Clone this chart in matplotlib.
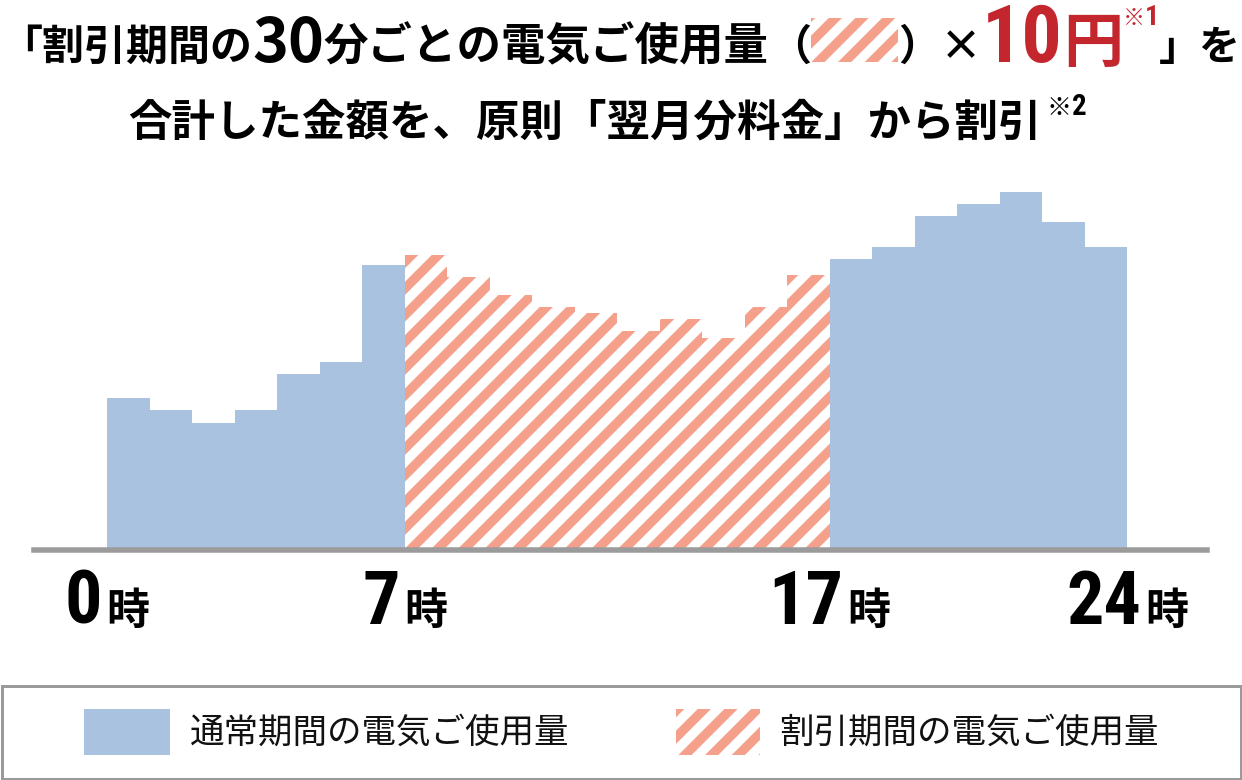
import matplotlib
matplotlib.use("Agg")
import matplotlib.pyplot as plt
from matplotlib import font_manager as fm
from matplotlib.font_manager import FontProperties
from matplotlib.patches import Rectangle
from matplotlib.transforms import Affine2D, ScaledTranslation

# ---------------- data ----------------
hours_normal_am = [0, 1, 2, 3, 4, 5, 6]
usage_normal_am = [150, 138, 125, 138, 174, 186, 283]
hours_discount = [7, 8, 9, 10, 11, 12, 13, 14, 15, 16]
usage_discount = [293, 271, 253, 241, 235, 217, 229, 210, 241, 273]
hours_normal_pm = [17, 18, 19, 20, 21, 22, 23]
usage_normal_pm = [289, 301, 332, 344, 356, 326, 301]

tick_hours = [0, 7, 17, 24]
tick_numbers = ["0", "7", "17", "24"]
tick_unit = "時"

legend_labels = ["通常期間の電気ご使用量", "割引期間の電気ご使用量"]

title1_a = "「割引期間の"
title1_num = "30"
title1_b = "分ごとの電気ご使用量"
title1_open = "（"
title1_close = "）×"
title1_price = "10"
title1_yen = "円"
title1_note = "※"
title1_note_no = "1"
title1_end = "」を"
title2 = "合計した金額を、原則「翌月分料金」から割引"
title2_note = "※"
title2_note_no = "2"

# ---------------- style ----------------
BLUE = "#a8c2e0"
SALMON = "#f4a08a"
RED = "#c4262e"
GRAY = "#9b9b9b"
BLACK = "#000000"
DPI = 160
W, H = 1242, 780
CJK = ["Noto Sans CJK JP", "DejaVu Sans"]

plt.rcParams["font.family"] = CJK
plt.rcParams["hatch.linewidth"] = 4.2


def pt(px):
    return px * 72.0 / DPI


def _wnum(w):
    if isinstance(w, (int, float)):
        return w
    return fm.weight_dict.get(str(w).lower(), 400)


def _snum(s):
    if isinstance(s, (int, float)):
        return s
    return fm.stretch_dict.get(str(s).lower(), 500)


def find_condensed(target_w):
    prefs = ["roboto condensed", "liberation sans narrow", "dejavu sans",
             "open sans", "noto sans", "roboto", "lato", "inter"]
    best = None
    for f in fm.fontManager.ttflist:
        fn = f.fname.lower()
        nm = f.name.lower()
        cond = ("condensed" in fn or "narrow" in fn or "condensed" in nm
                or "narrow" in nm or _snum(f.stretch) < 500)
        if not cond:
            continue
        if f.style != "normal" or "italic" in fn or "oblique" in fn:
            continue
        w = _wnum(f.weight)
        if w < 500:
            continue
        rank = next((i for i, p in enumerate(prefs) if nm.startswith(p)), len(prefs))
        key = (rank, abs(w - target_w))
        if best is None or key < best[0]:
            best = (key, f.fname)
    return best[1] if best else None


COND_BOLD = find_condensed(700)
COND_SEMI = find_condensed(600)


def digit_fp(px, path=None):
    path = path or COND_BOLD
    if path:
        return FontProperties(fname=path, size=pt(px))
    return FontProperties(family=["Roboto", "DejaVu Sans"], weight="bold", size=pt(px * 0.82))


def cjk_fp(px, weight="bold"):
    return FontProperties(family=CJK, weight=weight, size=pt(px))


# ---------------- figure ----------------
fig = plt.figure(figsize=(W / DPI, H / DPI), dpi=DPI)
fig.patch.set_facecolor("white")
pix = Affine2D().scale(1.0 / W, -1.0 / H).translate(0, 1) + fig.transFigure

ax = fig.add_axes([34 / W, 1 - 550 / H, 1173 / W, 370 / H])
ax.bar(hours_normal_am, usage_normal_am, width=1, align="edge", color=BLUE, linewidth=0)
ax.bar(hours_discount, usage_discount, width=1, align="edge", facecolor="white",
       edgecolor=SALMON, linewidth=0, hatch="//")
ax.bar(hours_normal_pm, usage_normal_pm, width=1, align="edge", color=BLUE, linewidth=0)
ax.set_xlim(-1.718, 25.88)
ax.set_ylim(-2, 368)
for s in ["top", "right", "left"]:
    ax.spines[s].set_visible(False)
ax.spines["bottom"].set_color(GRAY)
ax.spines["bottom"].set_linewidth(pt(5.5))
ax.set_yticks([])
ax.set_xticks([])
ax.set_facecolor("none")

renderer = fig.canvas.get_renderer()

# ---- x tick labels (digits + 時) ----
base_tr = ax.get_xaxis_transform()
dy = -74.0 / DPI
gap = 4.0
for hr, num in zip(tick_hours, tick_numbers):
    t_num = ax.text(hr, 0, num, fontproperties=digit_fp(74, COND_SEMI), color=BLACK,
                    ha="left", va="baseline", transform=base_tr)
    t_ji = ax.text(hr, 0, tick_unit, fontproperties=cjk_fp(43), color=BLACK,
                   ha="left", va="baseline", transform=base_tr)
    w1 = t_num.get_window_extent(renderer).width
    w2 = t_ji.get_window_extent(renderer).width
    x0 = -(w1 + gap + w2) / 2.0
    t_num.set_transform(base_tr + ScaledTranslation(x0 / DPI, dy, fig.dpi_scale_trans))
    t_ji.set_transform(base_tr + ScaledTranslation((x0 + w1 + gap) / DPI, dy, fig.dpi_scale_trans))


def width_px(t):
    return t.get_window_extent(renderer).width


def ptext(x, y, s, fp, color=BLACK, ha="left"):
    return fig.text(x, y, s, fontproperties=fp, color=color, ha=ha, va="baseline",
                    transform=pix)


# ---- title line 1: measure, then lay out without overlaps inside the canvas ----
L1 = 60
BOX_W = 87
line1 = [
    (title1_a, cjk_fp(42), BLACK, L1, 0),
    (title1_num, cjk_fp(61), BLACK, L1 + 2, 245),
    (title1_b, cjk_fp(44.5), BLACK, L1, 320),
    (title1_open, cjk_fp(42), BLACK, L1, 772),
    ("BOX", None, None, None, 817),
    (title1_close, cjk_fp(42), BLACK, L1, 905),
    (title1_price, digit_fp(80), RED, L1 + 2, 978),
    (title1_yen, cjk_fp(60), RED, L1 + 2, 1052),
    (title1_note, cjk_fp(22), RED, 25, 1116),
    (title1_note_no, digit_fp(28), RED, 25, 1138),
    (title1_end, cjk_fp(41), BLACK, L1, 1158),
]
items = []
for s, fp, col, yb, want in line1:
    if s == "BOX":
        items.append([None, BOX_W, want])
    else:
        t = ptext(0, yb, s, fp, color=col)
        items.append([t, width_px(t), want])
# forward pass
pos = []
cur = 0.0
for t, w, want in items:
    p = max(want, cur)
    pos.append(p)
    cur = p + w
# backward pass (keep inside right edge)
limit = W - 1.0
for i in range(len(items) - 1, -1, -1):
    pos[i] = min(pos[i], limit - items[i][1])
    limit = pos[i]
for (t, w, want), p in zip(items, pos):
    if t is None:
        fig.add_artist(Rectangle((p, 18), BOX_W, 44, transform=pix, facecolor="white",
                                 edgecolor=SALMON, linewidth=0, hatch="//"))
    else:
        t.set_x(p)

# ---- title line 2 ----
L2 = 136
t2 = ptext(128, L2, title2, cjk_fp(43.5))
xn = max(1046, 128 + width_px(t2) + 2)
tn = ptext(xn, 115, title2_note, cjk_fp(25))
ptext(xn + width_px(tn) + 1, 115, title2_note_no, digit_fp(29))

# ---- legend ----
fig.add_artist(Rectangle((1.5, 685.5), 1239, 93, transform=pix, facecolor="none",
                         edgecolor="#9a9a9a", linewidth=pt(3)))
fig.add_artist(Rectangle((84, 709), 86, 46, transform=pix, facecolor=BLUE, linewidth=0))
fig.add_artist(Rectangle((676, 709), 84, 46, transform=pix, facecolor="white",
                         edgecolor=SALMON, linewidth=0, hatch="//"))
fig.text(190, 733, legend_labels[0], fontproperties=cjk_fp(34.5, "normal"), color="#111111",
         ha="left", va="center", transform=pix)
fig.text(779, 733, legend_labels[1], fontproperties=cjk_fp(34.5, "normal"), color="#111111",
         ha="left", va="center", transform=pix)

fig.savefig("out.png", dpi=DPI, facecolor="white")
